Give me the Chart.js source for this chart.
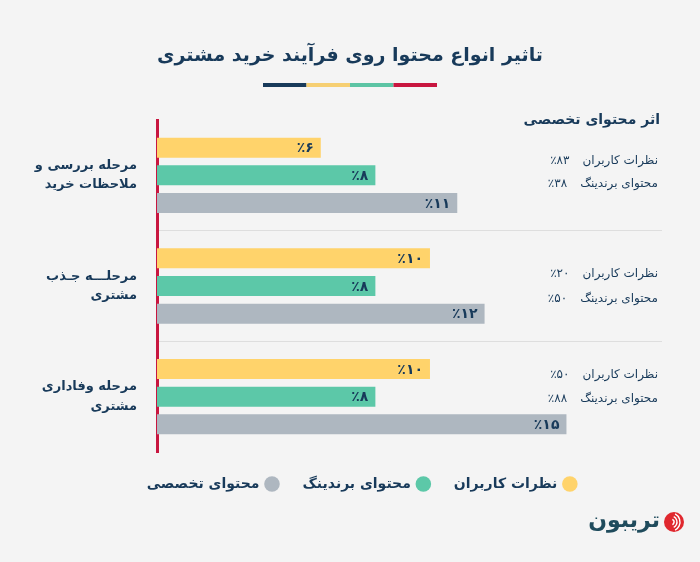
<!DOCTYPE html>
<html lang="fa">
<head>
<meta charset="utf-8">
<script src="https://cdn.jsdelivr.net/npm/chart.js@4.4.1/dist/chart.umd.min.js"></script>
<style>
html,body{margin:0;padding:0;background:#f4f4f4;}
#wrap{width:700px;height:562px;position:relative;}
canvas{display:block;}
</style>
</head>
<body>
<div id="wrap"><canvas id="c" width="700" height="562"></canvas></div>
<script>
// ---- data ----
const chartTitle = "تاثیر انواع محتوا روی فرآیند خرید مشتری";
const categories = [["مرحله بررسی و", "ملاحظات خرید"], ["مرحلـــه جـذب", "مشتری"], ["مرحله وفاداری", "مشتری"]];
const seriesNames = ["نظرات کاربران", "محتوای برندینگ", "محتوای تخصصی"];
const userReviews = [6, 10, 10];
const brandingContent = [8, 8, 8];
const expertContent = [11, 12, 15];
const sideTitle = "اثر محتوای تخصصی";
const sideRowNames = ["نظرات کاربران", "محتوای برندینگ"];
const sideUserReviews = [83, 20, 50];
const sideBranding = [38, 50, 88];
const brandName = "تریبون";

// ---- styles ----
const NAVY = '#183a5a';
const COLORS = ['#ffd36b', '#5cc8a8', '#aeb7c0'];
const FONT = "'DejaVu Sans', sans-serif";
Chart.defaults.font.family = FONT;

const toFa = n => String(n).replace(/\d/g, d => '۰۱۲۳۴۵۶۷۸۹'[d]);
const pct = n => '٪' + toFa(n);

const bgPlugin = {
  id: 'bg',
  beforeDraw(chart) {
    const c = chart.ctx;
    c.save();
    c.fillStyle = '#f4f4f4';
    c.fillRect(0, 0, chart.width, chart.height);
    c.restore();
    // let the multi-line category labels extend past the axis box
    chart.scales.y._computeLabelArea = () => undefined;
  }
};

const titlePlugin = {
  id: 'titleDeco',
  afterDraw(chart) {
    const c = chart.ctx;
    const cx = chart.width / 2;
    c.save();
    c.direction = 'rtl';
    c.fillStyle = NAVY;
    c.font = "bold 19px " + FONT;
    c.textAlign = 'center';
    c.textBaseline = 'middle';
    c.fillText(chartTitle, cx, 56);
    const segs = ['#183a5a', '#f6cf72', '#5cc4a4', '#c8163f'];
    const w = 43.5, x0 = cx - 2 * w;
    segs.forEach((col, i) => { c.fillStyle = col; c.fillRect(x0 + i * w, 83, w, 4); });
    c.restore();
  }
};

const valuePlugin = {
  id: 'values',
  afterDatasetsDraw(chart) {
    const c = chart.ctx;
    c.save();
    c.direction = 'ltr';
    c.fillStyle = NAVY;
    c.font = "bold 14px " + FONT;
    c.textAlign = 'right';
    c.textBaseline = 'middle';
    chart.data.datasets.forEach((ds, di) => {
      chart.getDatasetMeta(di).data.forEach((el, i) => {
        c.fillText(pct(ds.data[i]), el.x - 7, el.y + 1);
      });
    });
    c.restore();
  }
};

const sidePlugin = {
  id: 'side',
  afterDraw(chart, args, opts) {
    const c = chart.ctx;
    const ys = chart.scales.y;
    const xr = chart.chartArea.right - 4;
    c.save();
    c.fillStyle = NAVY;
    c.textAlign = 'right';
    c.textBaseline = 'middle';
    c.direction = 'rtl';
    c.font = "bold 14px " + FONT;
    c.fillText(sideTitle, xr + 2, chart.chartArea.top);
    c.font = "12px " + FONT;
    const row = (name, val, y) => {
      c.direction = 'rtl';
      c.fillText(name, xr, y);
      const w = c.measureText(name).width;
      c.direction = 'ltr';
      c.fillText(pct(val), xr - w - 13, y);
    };
    categories.forEach((cat, i) => {
      const yc = ys.getPixelForValue(i);
      const off = opts.offsets[i];
      row(sideRowNames[0], sideUserReviews[i], yc + off[0]);
      row(sideRowNames[1], sideBranding[i], yc + off[1]);
    });
    c.restore();
  }
};

const logoPlugin = {
  id: 'logo',
  afterDraw(chart) {
    const c = chart.ctx;
    c.save();
    c.direction = 'rtl';
    c.fillStyle = '#1f4b5c';
    c.font = "bold 22px " + FONT;
    c.textAlign = 'right';
    c.textBaseline = 'middle';
    c.fillText(brandName, 660, 521);
    const cx = 674, cy = 522, r = 10;
    c.beginPath(); c.arc(cx, cy, r, 0, Math.PI * 2); c.fillStyle = '#e0282e'; c.fill();
    c.save();
    c.beginPath(); c.arc(cx, cy, r, 0, Math.PI * 2); c.clip();
    c.strokeStyle = '#ffffff'; c.lineWidth = 1.4;
    [3, 6, 9].forEach(rr => { c.beginPath(); c.arc(cx - 3, cy, rr, -1.1, 1.1); c.stroke(); });
    c.restore();
    c.restore();
  }
};

new Chart(document.getElementById('c'), {
  type: 'bar',
  data: {
    labels: categories,
    datasets: [
      { label: seriesNames[0], data: userReviews, backgroundColor: COLORS[0] },
      { label: seriesNames[1], data: brandingContent, backgroundColor: COLORS[1] },
      { label: seriesNames[2], data: expertContent, backgroundColor: COLORS[2] }
    ]
  },
  options: {
    indexAxis: 'y',
    responsive: false,
    animation: false,
    devicePixelRatio: 1,
    layout: { padding: { top: 120, left: 60, right: 38, bottom: 61 } },
    datasets: { bar: { categoryPercentage: 0.75, barPercentage: 0.72, borderWidth: 0 } },
    scales: {
      x: { display: false, min: 0, max: 18.5 },
      y: {
        afterFit(s) { s.width = 97; },
        border: { color: '#c8163f', width: 3 },
        grid: {
          drawTicks: false,
          lineWidth: 1,
          color: ctx => (ctx.index === 1 || ctx.index === 2) ? '#dedede' : 'rgba(0,0,0,0)'
        },
        ticks: {
          color: NAVY,
          padding: 20,
          crossAlign: 'near',
          font: { size: 13, weight: 'bold', lineHeight: 1.5 }
        }
      }
    },
    plugins: {
      title: { display: false },
      tooltip: { enabled: false },
      legend: {
        position: 'bottom',
        rtl: true,
        textDirection: 'rtl',
        labels: {
          usePointStyle: true,
          pointStyle: 'circle',
          boxWidth: 11,
          boxHeight: 11,
          padding: 25,
          color: NAVY,
          font: { size: 14, weight: 'bold' }
        }
      },
      side: { offsets: [[-14, 9], [-12, 13], [-22, 2]] }
    }
  },
  plugins: [bgPlugin, valuePlugin, sidePlugin, titlePlugin, logoPlugin]
});
</script>
</body>
</html>
